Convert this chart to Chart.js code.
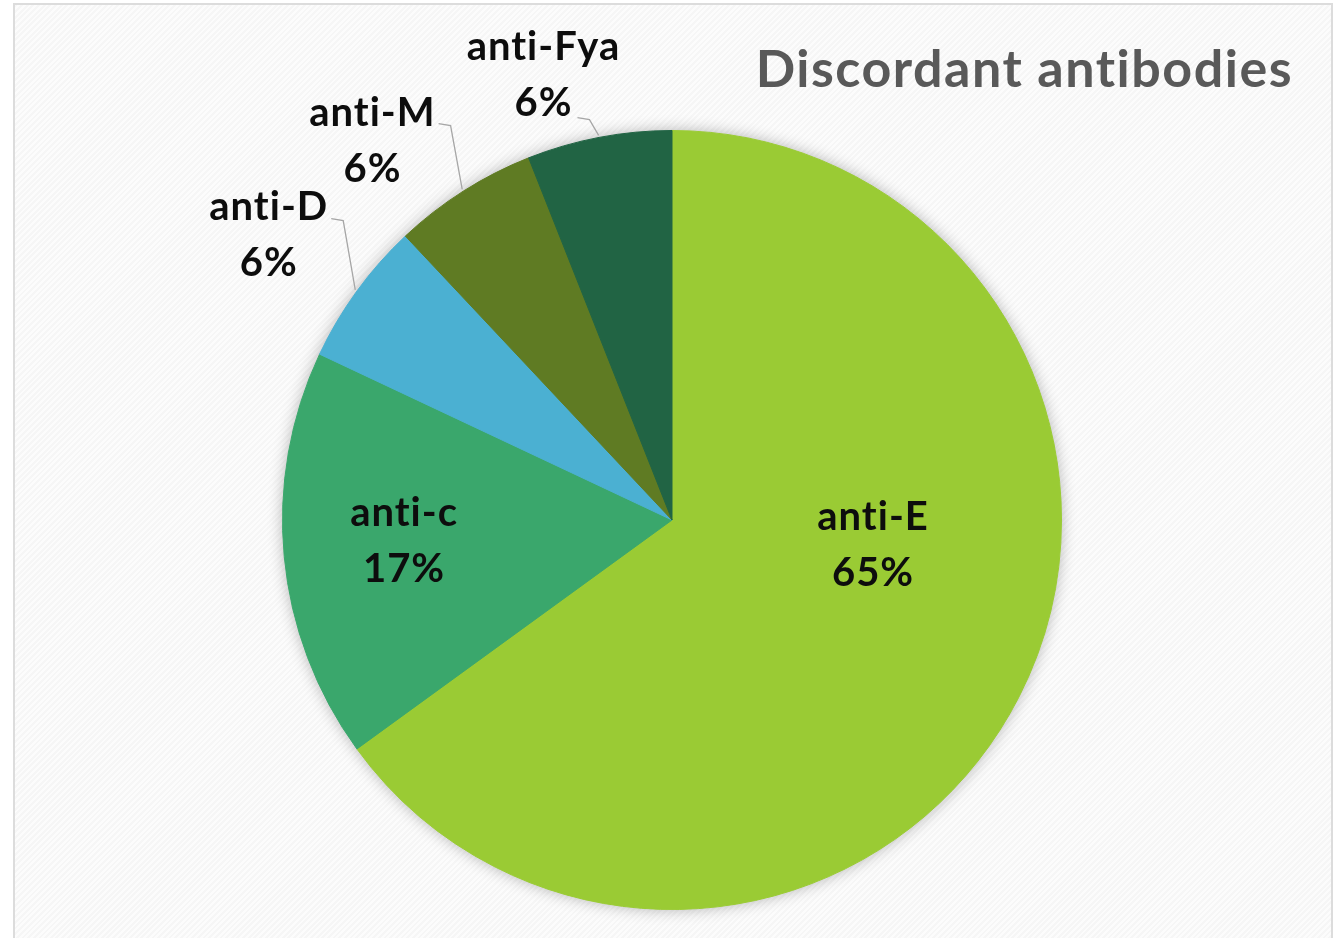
<!DOCTYPE html>
<html>
<head>
<meta charset="utf-8">
<script src="https://cdn.jsdelivr.net/npm/chart.js@4.4.1/dist/chart.umd.min.js"></script>
<style>
  html, body { margin: 0; padding: 0; background: #ffffff; overflow: hidden; }
  #frame {
    position: absolute; left: 13px; top: 3px; width: 1316px; height: 960px;
    border: 2px solid #dcdcdc;
    background: repeating-linear-gradient(135deg, #f6f6f6 0px, #f6f6f6 2px, #fcfcfc 2px, #fcfcfc 4px);
  }
  #wrap { position: absolute; left: 0; top: 0; width: 1340px; height: 938px; }
</style>
</head>
<body>
<div id="frame"></div>
<div id="wrap"><canvas id="pie"></canvas></div>
<script>
document.addEventListener("DOMContentLoaded", () => {

    const chartTitle = "Discordant antibodies";
    const labels = ["anti-E", "anti-c", "anti-D", "anti-M", "anti-Fya"];
    const values = [65, 17, 6, 6, 6];
    const colors = ["#9acb34", "#3aa76c", "#4bb0d2", "#5f7b23", "#216444"];

    const FONT = "Lato, 'Open Sans', sans-serif";

    // label placement (relative to slice middle angle, in degrees / fraction of radius)
    const labelLayout = [
        { inside: true, r: 0.52, da: -20 },
        { inside: true, r: 0.69, da: 1 },
        { inside: false, r: 1.267, da: -0.8, from: "top" },
        { inside: false, r: 1.241, da: -5.9, from: "top" },
        { inside: false, r: 1.19, da: -5.3, from: "bottom" }
    ];

    const shadowPlugin = {
        id: "pieShadow",
        beforeDatasetsDraw(chart) {
            const arc = chart.getDatasetMeta(0).data[0];
            if (!arc) return;
            const { x, y, outerRadius } = arc.getProps(["x", "y", "outerRadius"], true);
            const ctx = chart.ctx;
            ctx.save();
            ctx.shadowColor = "rgba(0,0,0,0.32)";
            ctx.shadowBlur = 16;
            ctx.fillStyle = "#9acb34";
            ctx.beginPath();
            ctx.arc(x, y, outerRadius - 1, 0, Math.PI * 2);
            ctx.fill();
            ctx.restore();
        }
    };

    const labelPlugin = {
        id: "sliceLabels",
        afterDatasetsDraw(chart) {
            const ctx = chart.ctx;
            const meta = chart.getDatasetMeta(0);
            const fontSize = 40;
            const lineGap = 56;
            ctx.save();
            ctx.font = `bold ${fontSize}px ${FONT}`;
            ctx.letterSpacing = "1px";   // also keeps "ti" from turning into a ligature
            ctx.textAlign = "center";
            ctx.textBaseline = "middle";

            meta.data.forEach((arc, i) => {
                const p = arc.getProps(["x", "y", "startAngle", "endAngle", "outerRadius"], true);
                const mid = (p.startAngle + p.endAngle) / 2;
                const lay = labelLayout[i];
                const ang = mid + lay.da * Math.PI / 180;
                const cx = p.x + Math.cos(ang) * p.outerRadius * lay.r;
                const cy = p.y + Math.sin(ang) * p.outerRadius * lay.r;
                const line1 = labels[i];
                const line2 = values[i] + "%";

                if (!lay.inside) {
                    // leader line
                    let sx, sy;
                    if (lay.from === "top") {
                        sx = cx + ctx.measureText(line1).width / 2 + 3;
                        sy = cy - lineGap / 2 + 11;
                    } else {
                        sx = cx + ctx.measureText(line2).width / 2 + 5;
                        sy = cy + lineGap / 2 + 15;
                    }
                    const ex = p.x + Math.cos(mid) * (p.outerRadius + 2);
                    const ey = p.y + Math.sin(mid) * (p.outerRadius + 2);
                    ctx.strokeStyle = "#a6a6a6";
                    ctx.lineWidth = 1.3;
                    ctx.beginPath();
                    ctx.moveTo(sx, sy);
                    ctx.lineTo(sx + 12, sy + 2);
                    ctx.lineTo(ex, ey);
                    ctx.stroke();
                }

                ctx.fillStyle = "#0d0d0d";
                ctx.fillText(line1, cx, cy - lineGap / 2);
                ctx.fillText(line2, cx, cy + lineGap / 2);
            });

            // title
            ctx.fillStyle = "#595959";
            ctx.font = `bold 52px ${FONT}`;
            ctx.letterSpacing = "1.5px";
            ctx.textAlign = "right";
            ctx.fillText(chartTitle, 1293, 70);
            ctx.restore();
        }
    };

    new Chart(document.getElementById("pie"), {
        type: "pie",
        data: {
            labels,
            datasets: [{
                data: values,
                backgroundColor: colors,
                borderColor: colors,
                borderWidth: 1
            }]
        },
        options: {
            responsive: true,
            maintainAspectRatio: false,
            animation: false,
            events: [],
            layout: { padding: { left: 4, right: 0, top: 130, bottom: 28 } },
            plugins: {
                legend: { display: false },
                tooltip: { enabled: false },
                title: { display: false }
            }
        },
        plugins: [shadowPlugin, labelPlugin]
    });
});
</script>
</body>
</html>
